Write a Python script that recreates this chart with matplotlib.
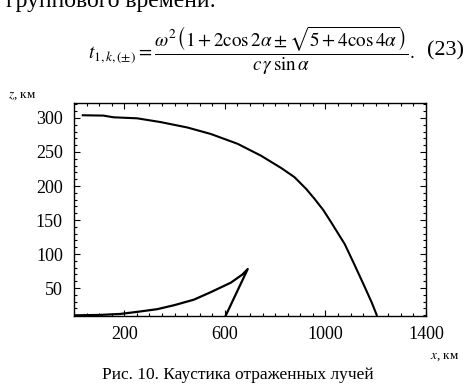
import matplotlib
matplotlib.use("Agg")
import matplotlib.pyplot as plt
from matplotlib.ticker import MultipleLocator, FixedLocator

plt.rcParams['font.family'] = ['Liberation Serif', 'DejaVu Serif']
plt.rcParams['mathtext.fontset'] = 'stix'

# внешняя ветвь каустики
x_outer = [35, 117, 157, 251, 344, 451, 544, 651, 744, 824, 877, 924, 957,
           991, 1024, 1077, 1111, 1151, 1184, 1204]
z_outer = [304, 303.5, 301, 299.5, 294, 286, 276.5, 262, 244.5, 226.5, 213,
           195.5, 181, 165, 146, 114.5, 88, 56, 29, 10.5]

# внутренняя ветвь (с острием)
x_inner = [5, 100, 184, 250, 331, 400, 477, 544, 624, 670, 691, 604]
z_inner = [10, 10.5, 12, 15, 19, 25, 33, 44, 58, 70, 78, 10]

x_major = [200, 600, 1000, 1400]
y_major = [50, 100, 150, 200, 250, 300]

fig = plt.figure(figsize=(4.75, 3.89), dpi=100)
ax = fig.add_axes([0.1558, 0.1877, 0.741, 0.5475])

ax.plot(x_outer, z_outer, color='black', lw=1.5)
ax.plot(x_inner, z_inner, color='black', lw=1.6)

ax.set_xlim(0, 1400)
ax.set_ylim(9, 322)
ax.xaxis.set_major_locator(FixedLocator(x_major))
ax.xaxis.set_minor_locator(MultipleLocator(50))
ax.yaxis.set_major_locator(FixedLocator(y_major))
ax.yaxis.set_minor_locator(MultipleLocator(10))
ax.tick_params(which='both', direction='in', top=True, right=True,
               labelsize=13, width=0.8)
ax.tick_params(which='major', length=4)
ax.tick_params(which='minor', length=2)
ax.tick_params(axis='x', pad=7)
ax.tick_params(axis='y', pad=8)
for s in ax.spines.values():
    s.set_linewidth(1.0)

fig.text(0.017, 0.752, r'$z$, км', fontsize=9.5, va='center', ha='left')
fig.text(0.905, 0.082, r'$x$, км', fontsize=9.5, va='center', ha='left')

fig.text(0.5, 0.036, 'Рис. 10. Каустика отраженных лучей', fontsize=12.5,
         ha='center', va='center')

# фрагмент текста статьи над рисунком
fig.text(0.012, 0.995, 'группового времени:', fontsize=17, ha='left',
         va='center')
fig.text(0.185, 0.868,
         r'$t_{1,k,(\pm)} = \dfrac{\omega^2\left(1+2\cos 2\alpha \pm '
         r'\sqrt{5+4\cos 4\alpha}\right)}{c\,\gamma\,\sin\alpha}.$',
         fontsize=13.8, ha='left', va='center')
fig.text(0.9, 0.868, '(23)', fontsize=16, ha='left', va='center')

fig.savefig('out.png', dpi=100)
